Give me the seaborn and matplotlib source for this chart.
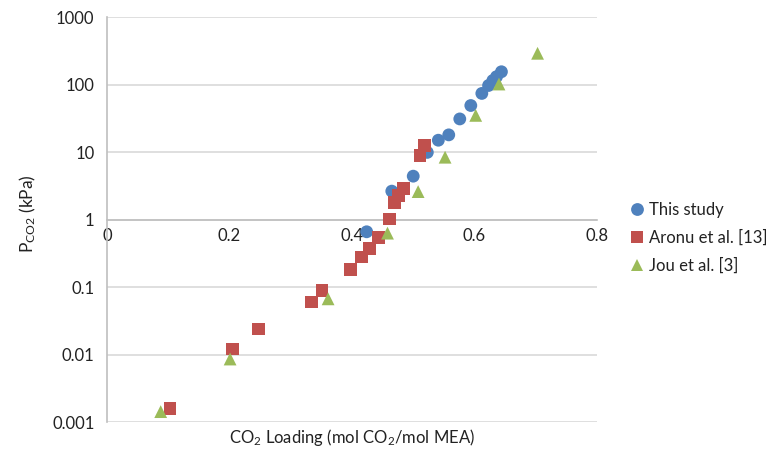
import matplotlib
matplotlib.use('Agg')
import matplotlib.pyplot as plt
import numpy as np
import pandas as pd
import seaborn as sns
from matplotlib.ticker import FixedLocator, FuncFormatter, NullLocator

# CO2 loading (mol CO2/mol MEA) vs partial pressure (kPa)
this_x = [0.424, 0.465, 0.500, 0.523, 0.541, 0.558, 0.576, 0.594, 0.612, 0.623, 0.630, 0.636, 0.644]
this_y = [0.66, 2.64, 4.4, 9.9, 15, 18, 31, 49, 74, 97, 115, 131, 155]

aronu_x = [0.103, 0.205, 0.248, 0.334, 0.351, 0.398, 0.416, 0.429, 0.443, 0.461, 0.470, 0.476, 0.484, 0.511, 0.519]
aronu_y = [0.0016, 0.0121, 0.024, 0.060, 0.089, 0.18, 0.28, 0.37, 0.55, 1.02, 1.8, 2.27, 2.85, 8.9, 12.5]

jou_x = [0.0877, 0.201, 0.361, 0.458, 0.508, 0.552, 0.602, 0.640, 0.703]
jou_y = [0.00143, 0.0086, 0.067, 0.63, 2.6, 8.4, 35, 102, 291]

series_names = ['This study', 'Aronu et al. [13]', 'Jou et al. [3]']
colors = ['#4F81BD', '#C0504D', '#9BBB59']
markers = ['o', 's', '^']
y_ticks = [0.001, 0.01, 0.1, 1, 10, 100, 1000]
x_ticks = [0, 0.2, 0.4, 0.6, 0.8]

df = pd.concat([
    pd.DataFrame({'x': this_x, 'y': this_y, 'series': series_names[0]}),
    pd.DataFrame({'x': aronu_x, 'y': aronu_y, 'series': series_names[1]}),
    pd.DataFrame({'x': jou_x, 'y': jou_y, 'series': series_names[2]}),
], ignore_index=True)

sns.set_style('white')
plt.rcParams['font.family'] = ['Lato', 'DejaVu Sans']
plt.rcParams['mathtext.fontset'] = 'custom'
plt.rcParams['mathtext.rm'] = 'Lato'
plt.rcParams['mathtext.it'] = 'Lato:italic'

fig = plt.figure(figsize=(7.82, 4.5), dpi=100)
ax = fig.add_axes([0.1368, 0.062, 0.6266, 0.900])

sns.scatterplot(data=df, x='x', y='y', hue='series', style='series',
                palette=dict(zip(series_names, colors)),
                markers=dict(zip(series_names, markers)),
                s=85, edgecolor='none', linewidth=0, ax=ax, zorder=3)

ax.set_yscale('log')
ax.set_ylim(0.001, 1000)
ax.set_xlim(0, 0.8)

ax.yaxis.set_major_locator(FixedLocator(y_ticks))
ax.yaxis.set_minor_locator(NullLocator())
ax.yaxis.set_major_formatter(FuncFormatter(lambda v, p: '%g' % v))
ax.xaxis.set_major_locator(FixedLocator(x_ticks))
ax.xaxis.set_major_formatter(FuncFormatter(lambda v, p: '%g' % v))

ax.grid(axis='y', color='#D9D9D9', linewidth=1.2)
ax.grid(axis='x', visible=False)
ax.set_axisbelow(True)

# excel-style: horizontal axis crosses at y = 1
ax.spines['bottom'].set_position(('data', 1))
for side in ['top', 'right']:
    ax.spines[side].set_visible(False)
for side in ['left', 'bottom']:
    ax.spines[side].set_color('#BFBFBF')
    ax.spines[side].set_linewidth(1.2)

ax.tick_params(axis='x', length=0, pad=6, labelsize=12, labelcolor='#222222')
ax.tick_params(axis='y', length=0, pad=9, labelsize=12, labelcolor='#222222')

ax.set_xlabel('')
ax.set_ylabel('')
fig.text(0.45, 0.027, r'CO$_2$ Loading (mol CO$_2$/mol MEA)', ha='center', va='center',
         fontsize=12, color='#222222')
fig.text(0.035, 0.525, r'P$_{\mathrm{CO2}}$ (kPa)', ha='center', va='center',
         rotation=90, fontsize=12.5, color='#222222')

handles, labels = ax.get_legend_handles_labels()
ax.legend_.remove()
leg = fig.legend(handles, labels, loc='upper left', bbox_to_anchor=(0.785, 0.585),
                 frameon=False, fontsize=12, handletextpad=0.2, labelspacing=0.72,
                 markerscale=1.0, handlelength=1.0)
for t in leg.get_texts():
    t.set_color('#222222')

fig.savefig('out.png', dpi=100)
